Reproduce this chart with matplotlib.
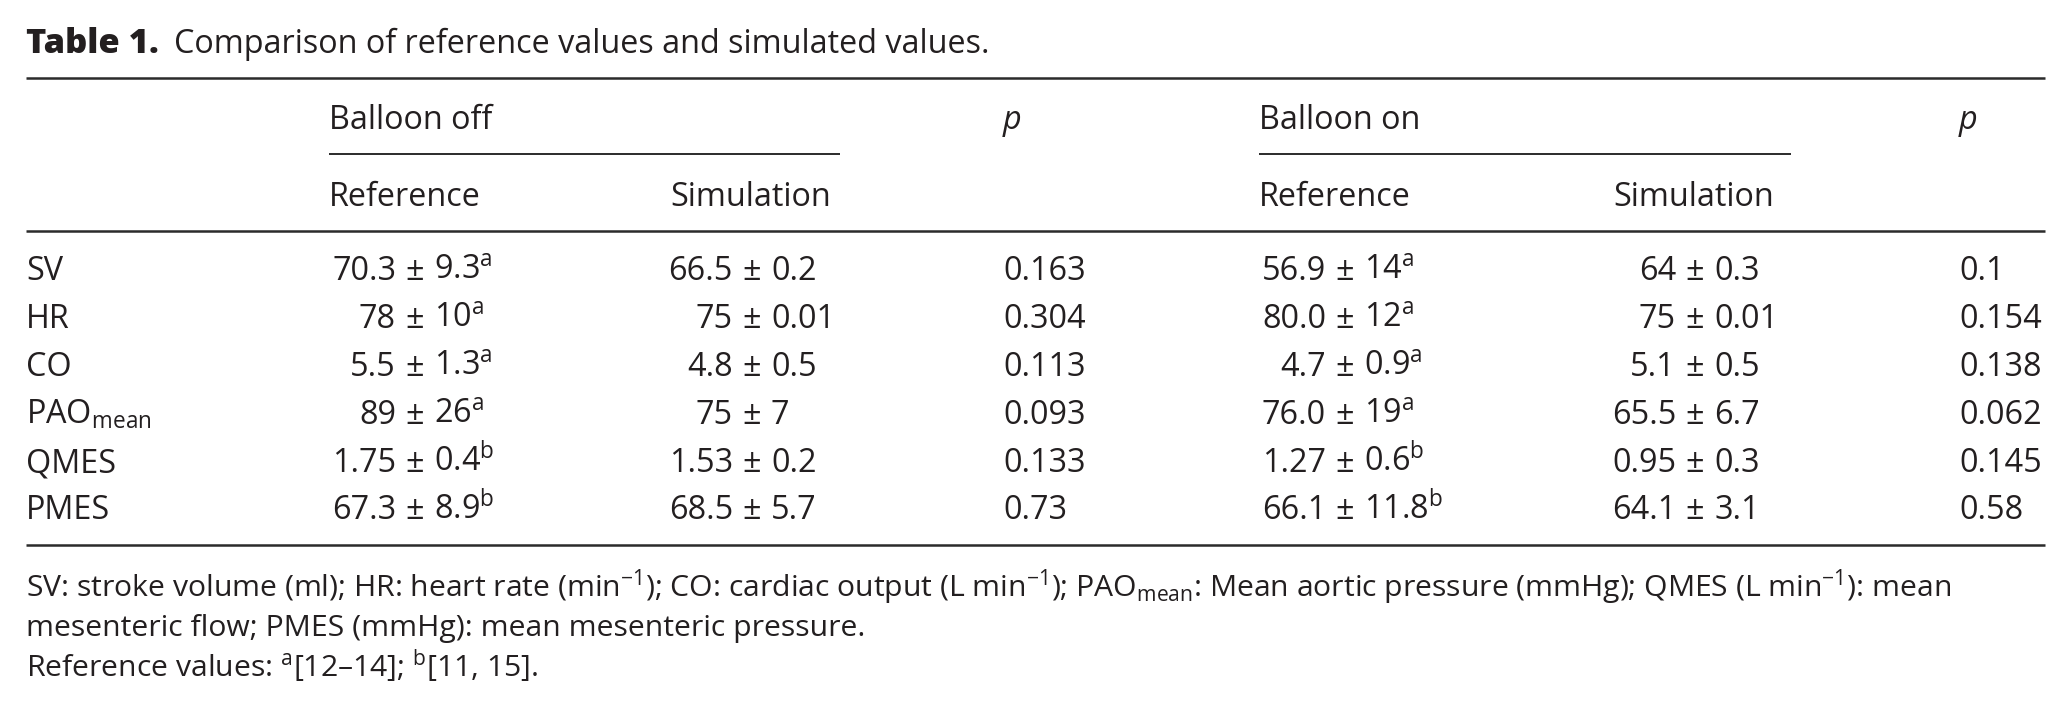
import matplotlib
matplotlib.use('Agg')
import matplotlib.pyplot as plt

plt.rcParams['font.family'] = ['Open Sans', 'DejaVu Sans']
plt.rcParams['mathtext.fontset'] = 'custom'
plt.rcParams['mathtext.rm'] = 'Open Sans'
plt.rcParams['mathtext.it'] = 'Open Sans:italic'
plt.rcParams['mathtext.bf'] = 'Open Sans:bold'

ink = '#231f20'
rule = '#2b2b2b'

# Table contents
variables = ['SV', 'HR', 'CO', r'PAO$_{\mathrm{mean}}$', 'QMES', 'PMES']
off_ref_mean = ['70.3', '78', '5.5', '89', '1.75', '67.3']
off_ref_sd = ['9.3', '10', '1.3', '26', '0.4', '8.9']
off_ref_src = ['a', 'a', 'a', 'a', 'b', 'b']
off_sim_mean = ['66.5', '75', '4.8', '75', '1.53', '68.5']
off_sim_sd = ['0.2', '0.01', '0.5', '7', '0.2', '5.7']
p_off = ['0.163', '0.304', '0.113', '0.093', '0.133', '0.73']
on_ref_mean = ['56.9', '80.0', '4.7', '76.0', '1.27', '66.1']
on_ref_sd = ['14', '12', '0.9', '19', '0.6', '11.8']
on_ref_src = ['a', 'a', 'a', 'a', 'b', 'b']
on_sim_mean = ['64', '75', '5.1', '65.5', '0.95', '64.1']
on_sim_sd = ['0.3', '0.01', '0.5', '6.7', '0.3', '3.1']
p_on = ['0.1', '0.154', '0.138', '0.062', '0.145', '0.58']

footnotes = [
    r'SV: stroke volume (ml); HR: heart rate (min$^{-1}$); CO: cardiac output (L min$^{-1}$); '
    r'PAO$_{\mathrm{mean}}$: Mean aortic pressure (mmHg); QMES (L min$^{-1}$): mean',
    'mesenteric flow; PMES (mmHg): mean mesenteric pressure.',
    r'Reference values: $^{\mathrm{a}}$[12–14]; $^{\mathrm{b}}$[11, 15].',
]

W, H = 2069, 707
fs = 23.3

fig = plt.figure(figsize=(W / 100, H / 100), dpi=100)
ax = fig.add_axes([0, 0, 1, 1])
ax.set_xlim(0, W)
ax.set_ylim(H, 0)
ax.axis('off')

# title
left = 26
t = ax.text(left, 53, 'Table 1.', fontsize=fs + 1.5, fontweight='heavy', color=ink, va='baseline')
ax.annotate('Comparison of reference values and simulated values.', xy=(1, 0), xycoords=t,
            xytext=(11, 0), textcoords='offset points', fontsize=fs, color=ink,
            ha='left', va='bottom')

# rules
right = 2045
for y in (78, 231, 545):
    ax.plot([left, right], [y, y], color=rule, lw=1.8, solid_capstyle='butt')
ax.plot([329, 840], [154, 154], color=rule, lw=1.4, solid_capstyle='butt')
ax.plot([1259, 1791], [154, 154], color=rule, lw=1.4, solid_capstyle='butt')

# header
ax.text(329, 129, 'Balloon off', fontsize=fs, color=ink, va='baseline')
ax.text(1259, 129, 'Balloon on', fontsize=fs, color=ink, va='baseline')
ax.text(1003, 129, 'p', fontsize=fs, style='italic', color=ink, va='baseline')
ax.text(1959, 129, 'p', fontsize=fs, style='italic', color=ink, va='baseline')
ax.text(329, 206, 'Reference', fontsize=fs, color=ink, va='baseline')
ax.text(670, 206, 'Simulation', fontsize=fs, color=ink, va='baseline')
ax.text(1259, 206, 'Reference', fontsize=fs, color=ink, va='baseline')
ax.text(1613, 206, 'Simulation', fontsize=fs, color=ink, va='baseline')

# body
row_y = [280, 328, 376, 424, 472, 519]


def pm_cell(x, y, mean, sd, src=None):
    ax.text(x - 19, y, mean, fontsize=fs, color=ink, ha='right', va='baseline')
    ax.text(x, y, '±', fontsize=fs, color=ink, ha='center', va='baseline')
    label = sd if src is None else sd + r'$^{\mathrm{' + src + '}}$'
    ax.text(x + 19, y, label, fontsize=fs, color=ink, ha='left', va='baseline')


for i, y in enumerate(row_y):
    ax.text(left, y, variables[i], fontsize=fs, color=ink, va='baseline')
    pm_cell(415, y, off_ref_mean[i], off_ref_sd[i], off_ref_src[i])
    pm_cell(752, y, off_sim_mean[i], off_sim_sd[i])
    ax.text(1003, y, p_off[i], fontsize=fs, color=ink, va='baseline')
    pm_cell(1345, y, on_ref_mean[i], on_ref_sd[i], on_ref_src[i])
    pm_cell(1695, y, on_sim_mean[i], on_sim_sd[i])
    ax.text(1959, y, p_on[i], fontsize=fs, color=ink, va='baseline')

# footnotes
for line, y in zip(footnotes, [597, 636, 676]):
    ax.text(left, y, line, fontsize=21.7, color=ink, va='baseline')

fig.savefig('out.png', dpi=100, facecolor='white')
